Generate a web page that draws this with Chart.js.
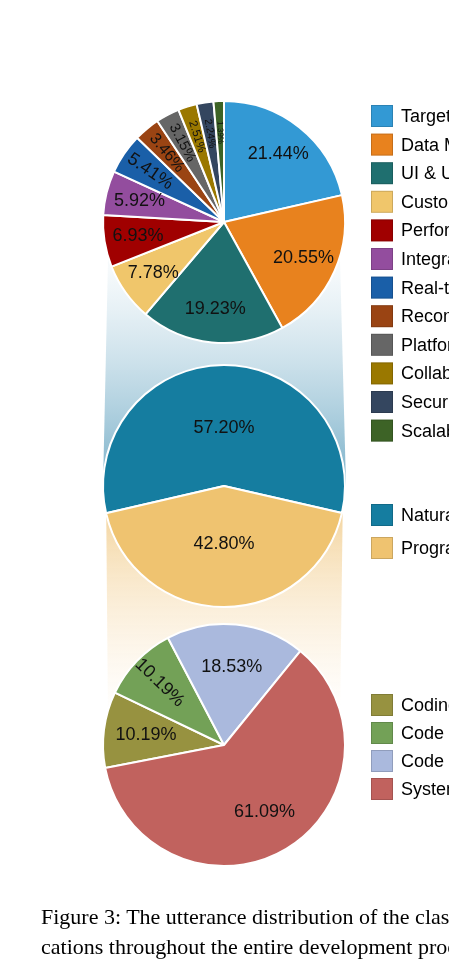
<!DOCTYPE html>
<html><head><meta charset="utf-8">
<script src="https://cdn.jsdelivr.net/npm/chart.js@4"></script>
<style>
html,body{margin:0;padding:0;background:#fff;overflow:hidden}
#wrap{position:relative;width:449px;height:973px;overflow:hidden}
canvas{position:absolute;left:0}
#cap{position:absolute;left:41px;top:902px;font-family:"Liberation Serif",serif;font-size:22px;line-height:30px;white-space:nowrap;color:#000}
</style></head><body>
<div id="wrap">
<canvas id="bg" width="449" height="973" style="top:0"></canvas>
<canvas id="c1" style="top:90px"></canvas>
<canvas id="c2" style="top:354px"></canvas>
<canvas id="c3" style="top:613px"></canvas>
<div id="cap">Figure 3: The utterance distribution of the classifi-<br>cations throughout the entire development process.</div>
</div>
<script>
const topLabels=["Target Users","Data Management","UI & UX","Customization","Performance","Integration","Real-time","Recommendation","Platform","Collaboration","Security","Scalability"];
const topValues=[21.44,20.55,19.23,7.78,6.93,5.92,5.41,3.46,3.15,2.51,2.24,1.39];
const topColors=["#3399d4","#e8821e","#1f6f6f","#f0c66b","#a00000","#934d9e","#1a5fa8","#9a4413","#666666","#9a7800","#34465f","#3d6326"];
const midLabels=["Natural Language","Programming Language"];
const midValues=[57.20,42.80];
const midColors=["#157da0","#efc370"];
const botLabels=["Coding","Code Review","Code Testing","System Design"];
const botValues=[10.19,10.19,18.53,61.09];
const botColors=["#979240","#73a157","#aab9dd","#c1625e"];

const bg=document.getElementById('bg').getContext('2d');
let g=bg.createLinearGradient(0,270,0,470);
g.addColorStop(0,'rgba(170,205,222,0.1)');g.addColorStop(1,'rgba(120,175,200,0.9)');
bg.fillStyle=g;bg.beginPath();bg.moveTo(108,260);bg.lineTo(340,260);bg.lineTo(346,486);bg.lineTo(103,486);bg.closePath();bg.fill();
g=bg.createLinearGradient(0,520,0,720);
g.addColorStop(0,'rgba(240,200,130,0.7)');g.addColorStop(1,'rgba(250,230,200,0)');
bg.fillStyle=g;bg.beginPath();bg.moveTo(106,486);bg.lineTo(343,486);bg.lineTo(340,720);bg.lineTo(108,720);bg.closePath();bg.fill();

const labelPlugin={id:'lbl',afterDatasetsDraw(chart,args,opts){
  const ctx=chart.ctx;const meta=chart.getDatasetMeta(0);const vals=chart.data.datasets[0].data;
  meta.data.forEach((arc,i)=>{
    const mid=(arc.startAngle+arc.endAngle)/2;const R=arc.outerRadius;
    const rot=opts.rotate.includes(i);
    const rr=R*(rot?0.74:opts.rf);
    const x=arc.x+Math.cos(mid)*rr,y=arc.y+Math.sin(mid)*rr;
    const v=vals[i];
    const fs=Math.min(18,Math.max(8,v*4.6));
    ctx.save();ctx.translate(x,y);
    if(rot)ctx.rotate(mid+Math.PI);
    ctx.font=fs+'px "Liberation Sans", Arial';ctx.fillStyle='#111';ctx.textAlign='center';ctx.textBaseline='middle';
    ctx.fillText(v.toFixed(2)+'%',0,0);ctx.restore();
  });
  const L=opts.legend;const ds=chart.data.datasets[0];
  chart.data.labels.forEach((lab,i)=>{
    const y=L.y+i*L.step;
    ctx.fillStyle=ds.backgroundColor[i];ctx.fillRect(371,y,22,22);
    ctx.strokeStyle='rgba(0,0,0,0.15)';ctx.lineWidth=1;ctx.strokeRect(371.5,y+0.5,21,21);
    ctx.fillStyle='#000';ctx.font='18px "Liberation Sans", Arial';ctx.textAlign='left';ctx.textBaseline='middle';
    ctx.fillText(lab,401,y+12);
  });
}};

function make(id,h,labels,values,colors,rotation,rotate,legend,rf){
  const c=document.getElementById(id);c.width=449;c.height=h;c.style.width='449px';c.style.height=h+'px';
  new Chart(c,{type:'pie',data:{labels:labels,datasets:[{data:values,backgroundColor:colors,borderColor:'#fff',borderWidth:2}]},
    options:{responsive:false,animation:false,rotation:rotation,
      layout:{padding:{left:102,right:103,top:10,bottom:h-10-244}},
      plugins:{legend:{display:false},tooltip:{enabled:false},lbl:{rotate:rotate,legend:legend,rf:rf}}},
    plugins:[labelPlugin]});
}
make('c1',380,topLabels,topValues,topColors,0,[6,7,8,9,10,11],{y:15,step:28.6},0.72);
make('c2',258,midLabels,midValues,midColors,-103,[],{y:150,step:33},0.48);
make('c3',264,botLabels,botValues,botColors,-101,[1],{y:81,step:28},0.65);
</script>
</body></html>
